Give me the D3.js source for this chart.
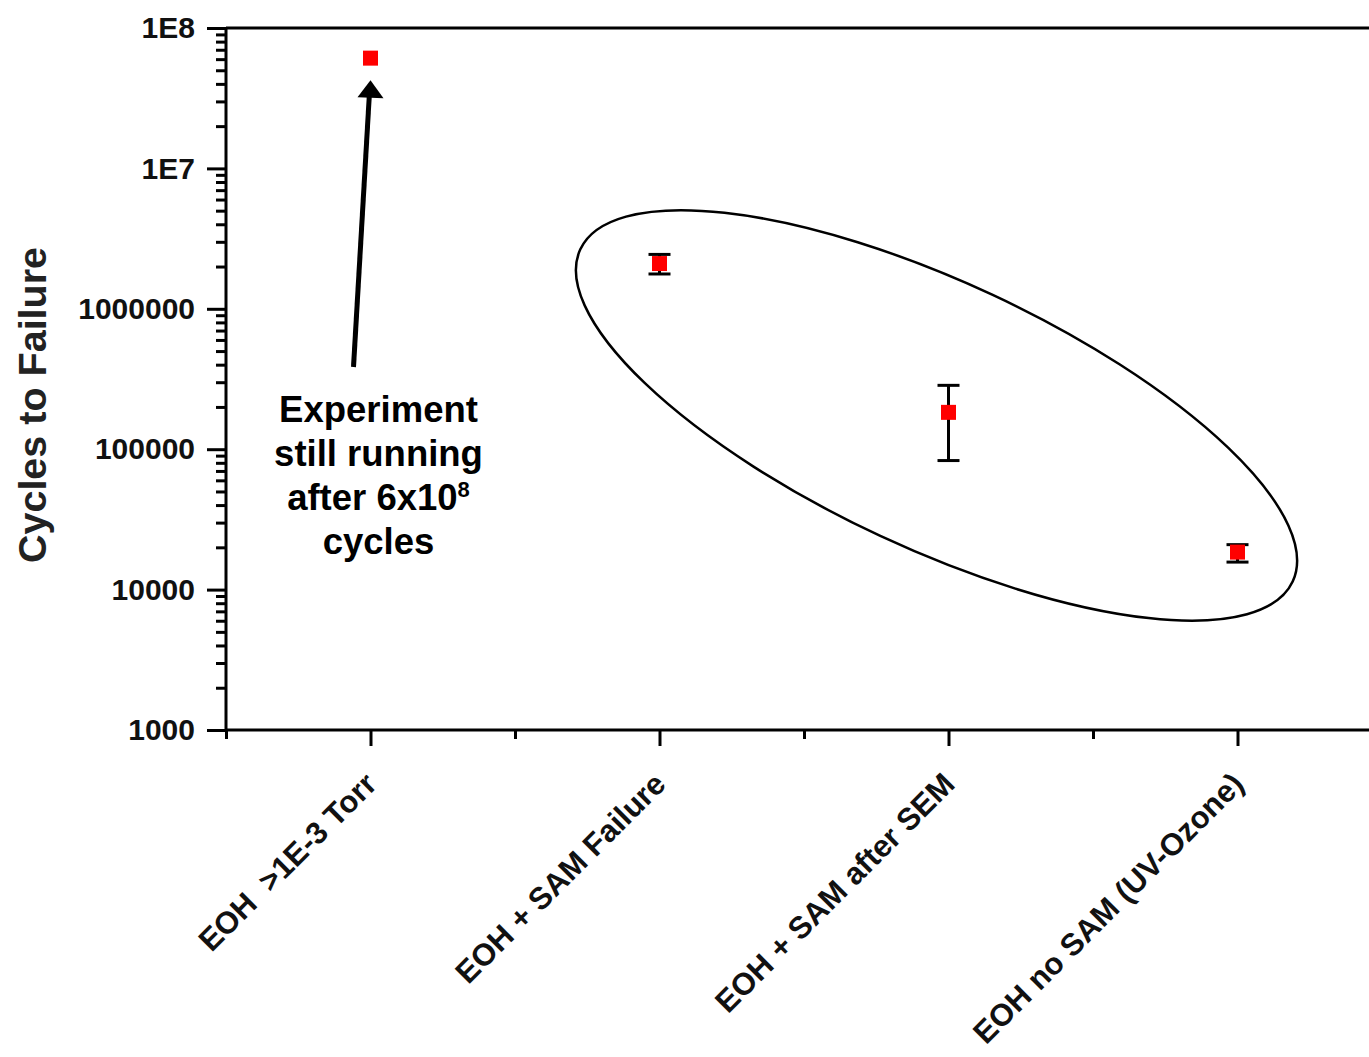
<!DOCTYPE html>
<html>
<head>
<meta charset="utf-8">
<script src="https://cdnjs.cloudflare.com/ajax/libs/d3/7.8.5/d3.min.js"></script>
<style>
  html, body { margin: 0; padding: 0; background: #fff; overflow: hidden; }
  svg { display: block; font-family: Arial, "Liberation Sans", sans-serif; }
</style>
</head>
<body>
<svg id="chart" width="1369" height="1057"></svg>
<script>
// ---- data ----
const categories = ["EOH\u00a0\u00a0>1E-3 Torr", "EOH + SAM Failure", "EOH + SAM after SEM", "EOH no SAM (UV-Ozone)"];
const values = [6.1e7, 2.1e6, 1.83e5, 1.85e4];
const errLow = [null, 1.77e6, 8.3e4, 1.57e4];
const errHigh = [null, 2.44e6, 2.85e5, 2.09e4];
const yTickValues = [1e3, 1e4, 1e5, 1e6, 1e7, 1e8];
const yTickLabels = ["1000", "10000", "100000", "1000000", "1E7", "1E8"];
const yTitle = "Cycles to Failure";
const noteLines = ["Experiment", "still running", "after 6x10", "cycles"];

(function () {
// ---- layout ----
const svg = d3.select("#chart");
const mLeft = 226, mTop = 28, mBottom = 730, step = 289;
const x = d3.scaleLinear().domain([0.5, 4.5]).range([mLeft, mLeft + 4 * step]);
const y = d3.scaleLog().domain([1e3, 1e8]).range([mBottom, mTop]);

// frame (top & right)
svg.append("path")
  .attr("d", `M${x(0.5)},${y(1e8)}H${x(4.5)}V${y(1e3)}`)
  .attr("fill", "none").attr("stroke", "#000").attr("stroke-width", 3);

// minor y ticks
const minorY = [];
for (let e = 3; e < 8; e++) for (let m = 2; m <= 9; m++) minorY.push(m * Math.pow(10, e));
svg.append("g").attr("transform", `translate(${mLeft},0)`)
  .call(d3.axisLeft(y).tickValues(minorY).tickSize(10).tickFormat(""))
  .call(g => g.select(".domain").remove())
  .selectAll("line").attr("stroke", "#000").attr("stroke-width", 3);

// major y axis
const yAxis = svg.append("g").attr("transform", `translate(${mLeft},0)`)
  .call(d3.axisLeft(y).tickValues(yTickValues).tickSize(19).tickPadding(12)
    .tickFormat((d, i) => yTickLabels[i]));
yAxis.select(".domain").attr("stroke", "#000").attr("stroke-width", 3).attr("d", `M0,${y(1e3)}V${y(1e8)}`);
yAxis.selectAll("line").attr("stroke", "#000").attr("stroke-width", 3);
yAxis.selectAll("text").attr("font-size", 30).attr("font-weight", "bold")
  .attr("font-family", "Arial, 'Liberation Sans', sans-serif").attr("fill", "#111");

// minor x ticks
svg.append("g").attr("transform", `translate(0,${mBottom})`)
  .call(d3.axisBottom(x).tickValues([0.5, 1.5, 2.5, 3.5, 4.5]).tickSize(9).tickFormat(""))
  .call(g => g.select(".domain").remove())
  .selectAll("line").attr("stroke", "#000").attr("stroke-width", 3);

// major x axis
const xAxis = svg.append("g").attr("transform", `translate(0,${mBottom})`)
  .call(d3.axisBottom(x).tickValues([1, 2, 3, 4]).tickSize(16).tickFormat(""));
xAxis.select(".domain").attr("stroke", "#000").attr("stroke-width", 3).attr("d", `M${x(0.5)},0H${x(4.5)}`);
xAxis.selectAll("line").attr("stroke", "#000").attr("stroke-width", 3);

// x labels rotated
svg.append("g").selectAll("text").data(categories).join("text")
  .attr("transform", (d, i) => `translate(${x(i + 1) + 8},${mBottom + 56}) rotate(-45)`)
  .attr("text-anchor", "end")
  .attr("font-size", 31).attr("font-weight", "bold").attr("fill", "#111")
  .text(d => d);

// y title
svg.append("text")
  .attr("transform", `translate(46,405) rotate(-90)`)
  .attr("text-anchor", "middle").attr("font-size", 39.5).attr("font-weight", "bold").attr("fill", "#222")
  .text(yTitle);

// error bars
const eb = svg.append("g");
const errIdx = values.map((v, i) => i).filter(i => errLow[i] != null);
eb.selectAll("line.v").data(errIdx).join("line")
  .attr("x1", i => x(i + 1)).attr("x2", i => x(i + 1))
  .attr("y1", i => y(errLow[i])).attr("y2", i => y(errHigh[i]))
  .attr("stroke", "#000").attr("stroke-width", 3);
eb.selectAll("line.lo").data(errIdx).join("line")
  .attr("x1", i => x(i + 1) - 11).attr("x2", i => x(i + 1) + 11)
  .attr("y1", i => y(errLow[i])).attr("y2", i => y(errLow[i]))
  .attr("stroke", "#000").attr("stroke-width", 3);
eb.selectAll("line.hi").data(errIdx).join("line")
  .attr("x1", i => x(i + 1) - 11).attr("x2", i => x(i + 1) + 11)
  .attr("y1", i => y(errHigh[i])).attr("y2", i => y(errHigh[i]))
  .attr("stroke", "#000").attr("stroke-width", 3);

// markers
svg.append("g").selectAll("rect").data(values).join("rect")
  .attr("x", (d, i) => x(i + 1) - 7.5).attr("y", d => y(d) - 7.5)
  .attr("width", 15).attr("height", 15).attr("fill", "#f00");

// ellipse annotation
svg.append("ellipse")
  .attr("transform", `translate(${x(2.9585)},${y(1.74e5)}) rotate(25)`)
  .attr("rx", 393).attr("ry", 133)
  .attr("fill", "none").attr("stroke", "#000").attr("stroke-width", 2.5);

// arrow annotation
const tipX = x(1), tipY = y(values[0]) + 22;
svg.append("line")
  .attr("x1", tipX - 17).attr("y1", 367)
  .attr("x2", tipX - 1).attr("y2", tipY + 12)
  .attr("stroke", "#000").attr("stroke-width", 5);
svg.append("path")
  .attr("d", `M${tipX},${tipY} L${tipX - 13},${tipY + 17} L${tipX + 13},${tipY + 18} Z`)
  .attr("fill", "#000");

// note text
const note = svg.append("text").attr("text-anchor", "middle")
  .attr("font-size", 36.5).attr("font-weight", "bold").attr("fill", "#000");
noteLines.forEach((t, i) => {
  const ts = note.append("tspan").attr("x", x(1) + 8).attr("y", 422 + i * 44).text(t);
  if (i === 2) ts.append("tspan").attr("font-size", 22).attr("dy", -13).text("8");
});
})();
</script>
</body>
</html>
